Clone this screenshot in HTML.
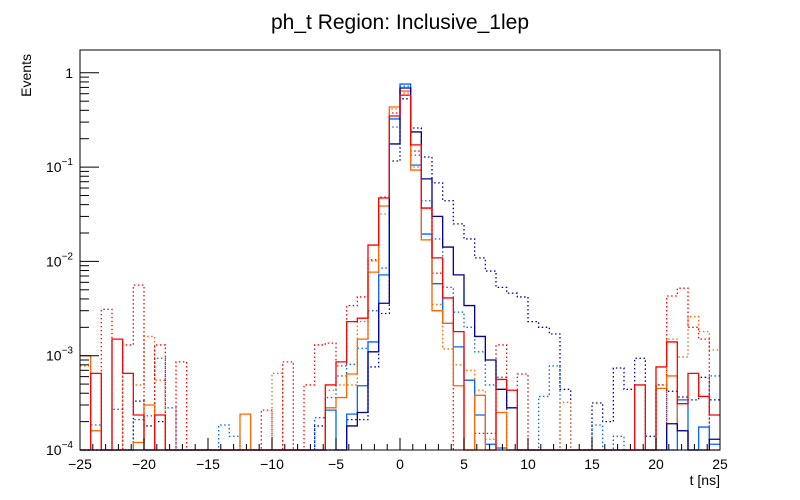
<!DOCTYPE html>
<html><head><meta charset="utf-8"><style>
html,body{margin:0;padding:0;background:#fff;}
svg{display:block;font-family:"Liberation Sans",Arial,sans-serif;}
</style></head><body>
<svg id="chart" width="800" height="500" viewBox="0 0 800 500" xmlns="http://www.w3.org/2000/svg">
<rect x="0" y="0" width="800" height="500" fill="#fff"/>
<text x="400" y="29" font-size="21" text-anchor="middle" fill="#000">ph_t Region: Inclusive_1lep</text>
<text x="0" y="0" font-size="14" text-anchor="end" transform="translate(31,54) rotate(-90)" fill="#000">Events</text>
<text x="720" y="485" font-size="14" text-anchor="end" fill="#000">t [ns]</text>
<g id="series"></g>
<g id="axes"></g>
</svg>
<script>
// ---- data ----
const nBins = 60;
const xMin = -25, xMax = 25;
const xTickLabels = ["−25","−20","−15","−10","−5","0","5","10","15","20","25"];
const xTickValues = [-25,-20,-15,-10,-5,0,5,10,15,20,25];
const yTickExponents = [0,-1,-2,-3,-4];
// sparse bin contents: [binIndex, value]
const navySolid = [[25,1.8e-4],[26,2.5e-4],[27,1.1e-3],[28,3.6e-3],[29,0.176],[30,0.69],[31,0.236],[32,0.075],[33,0.030],[34,0.0142],[35,7.2e-3],[36,3.4e-3],[37,1.6e-3],[38,9.0e-4],[39,4.4e-4],[40,2.8e-4],[55,1.9e-4],[56,1.6e-4],[59,1.3e-4]];
const azureSolid = [[23,2.65e-4],[25,2.4e-4],[26,4.8e-4],[27,1.4e-3],[28,7.2e-3],[29,0.324],[30,0.76],[31,0.105],[32,0.0195],[33,5.8e-3],[34,2.2e-3],[35,1.24e-3],[36,5.5e-4],[37,2.35e-4],[38,1.15e-4],[39,1.05e-4],[56,3.4e-4],[58,1.75e-4],[59,1.15e-4]];
const orangeSolid = [[0,1.0e-3],[1,1.6e-4],[5,1.2e-4],[6,3.0e-4],[15,2.4e-4],[23,2.8e-4],[24,3.6e-4],[25,6.4e-4],[26,1.5e-3],[27,7.7e-3],[28,0.0387],[29,0.434],[30,0.64],[31,0.093],[32,0.0169],[33,3.0e-3],[34,2.2e-3],[35,4.8e-4],[37,3.8e-4],[39,2.5e-4],[54,4.5e-4],[55,6.1e-4],[56,1.6e-4]];
const redSolid = [[1,6.5e-4],[3,1.5e-3],[4,6.5e-4],[5,2.35e-4],[7,2.35e-4],[23,4.9e-4],[24,8.6e-4],[25,2.3e-3],[26,2.5e-3],[27,0.0149],[28,0.047],[29,0.348],[30,0.58],[31,0.172],[32,0.0368],[33,0.0109],[34,4.1e-3],[35,1.8e-3],[39,5.6e-4],[40,4.3e-4],[52,4.9e-4],[54,7.6e-4],[55,1.4e-3],[56,3.1e-4],[57,6.5e-4],[58,3.7e-4],[59,2.35e-4]];
const navyDotted = [[5,3.3e-4],[6,1.8e-4],[7,2.0e-4],[22,1.8e-4],[25,2.1e-4],[26,2.1e-4],[27,7.6e-4],[28,2.8e-3],[29,0.116],[30,0.53],[31,0.26],[32,0.128],[33,0.068],[34,0.044],[35,0.025],[36,0.0173],[37,0.0109],[38,7.9e-3],[39,5.3e-3],[40,4.6e-3],[41,4.2e-3],[42,2.3e-3],[43,2.0e-3],[44,1.7e-3],[45,4.4e-4],[48,3.15e-4],[49,2.0e-4],[50,7.4e-4],[51,4.4e-4],[52,9.4e-4],[53,1.4e-4],[54,4.9e-4],[55,4.2e-4],[56,3.65e-4],[57,3.4e-4],[58,5.9e-4],[59,3.4e-4]];
const azureDotted = [[1,1.84e-4],[3,2.7e-4],[5,2.1e-4],[6,2.3e-4],[7,9.4e-4],[8,2.8e-4],[13,1.84e-4],[14,1.4e-4],[22,2.2e-4],[23,3.6e-4],[24,6.1e-4],[25,8.1e-4],[26,1.2e-3],[27,3.0e-3],[28,8.5e-3],[29,0.266],[30,0.72],[31,0.134],[32,0.044],[33,0.0173],[34,5.3e-3],[35,2.9e-3],[36,2.0e-3],[37,1.1e-3],[38,4.9e-4],[39,5.9e-4],[43,3.7e-4],[44,7.8e-4],[48,1.84e-4],[50,1.4e-4],[54,4.9e-4],[59,6.1e-4]];
const orangeDotted = [[0,7.8e-4],[1,6.5e-4],[4,6.5e-4],[5,4.9e-4],[6,1.6e-3],[7,5.5e-4],[18,6.5e-4],[23,4.3e-4],[24,4.9e-4],[25,4.9e-4],[26,2.3e-3],[27,0.0101],[28,0.0318],[29,0.413],[30,0.61],[31,0.100],[32,0.0169],[33,3.5e-3],[34,1.18e-3],[35,8.0e-4],[36,7.0e-4],[37,4.3e-4],[38,1.3e-4],[45,3.2e-4],[54,4.9e-4],[55,1.5e-3],[56,9.7e-4],[57,2.6e-3],[58,1.8e-3],[59,1.15e-3]];
const redDotted = [[2,3.1e-3],[4,1.3e-3],[5,5.6e-3],[7,1.3e-3],[9,8.6e-4],[17,2.65e-4],[19,8.6e-4],[21,4.9e-4],[22,1.3e-3],[23,1.36e-3],[24,7.8e-4],[25,3.4e-3],[26,4.2e-3],[27,0.0104],[28,0.048],[29,0.375],[30,0.58],[31,0.148],[32,0.0368],[33,7.5e-3],[34,2.2e-3],[37,1.5e-4],[38,1.5e-4],[39,1.3e-3],[41,6.4e-4],[55,4.3e-3],[56,5.2e-3],[57,2.0e-3],[58,1.5e-3]];

// ---- layout ----
const X0 = 80, X1 = 720, Y0 = 450, Y1 = 50;
const yMinLog = -4, decadePx = 94.3;
const NS = "http://www.w3.org/2000/svg";
function xScale(v){ return X0 + (v - xMin) / (xMax - xMin) * (X1 - X0); }
function yScale(v){
  if (!(v > 0)) return Y0;
  let y = Y0 - (Math.log10(v) - yMinLog) * decadePx;
  return Math.max(Y1, Math.min(Y0, y));
}
const binW = (xMax - xMin) / nBins;
function dense(sparse){ const a = new Array(nBins).fill(0); sparse.forEach(p => { a[p[0]] = p[1]; }); return a; }

const seriesDefs = [
  {data: navyDotted, color: "#000099", dash: "1.5,2.5", name: "series-navy-dotted"},
  {data: azureDotted, color: "#0066ff", dash: "1.5,2.5", name: "series-azure-dotted"},
  {data: orangeDotted, color: "#ff6600", dash: "1.5,2.5", name: "series-orange-dotted"},
  {data: redDotted, color: "#ff0000", dash: "1.5,2.5", name: "series-red-dotted"},
  {data: azureSolid, color: "#0066ff", dash: null, name: "series-azure-solid"},
  {data: orangeSolid, color: "#ff6600", dash: null, name: "series-orange-solid"},
  {data: navySolid, color: "#000099", dash: null, name: "series-navy-solid"},
  {data: redSolid, color: "#ff0000", dash: null, name: "series-red-solid"}
];
const sg = document.getElementById("series");
seriesDefs.forEach(s => {
  const vals = dense(s.data);
  let d = "";
  for (let i = 0; i < nBins; i++) {
    const xl = xScale(xMin + i * binW), xr = xScale(xMin + (i + 1) * binW);
    const y = yScale(vals[i]);
    d += (i === 0 ? "M" + xl + "," + y : "L" + xl + "," + y) + " L" + xr + "," + y + " ";
  }
  const p = document.createElementNS(NS, "path");
  p.setAttribute("d", d);
  p.setAttribute("fill", "none");
  p.setAttribute("stroke", s.color);
  p.setAttribute("stroke-width", "1.3");
  if (s.dash) p.setAttribute("stroke-dasharray", s.dash);
  
  
  sg.appendChild(p);
});

// ---- axes ----
const ag = document.getElementById("axes");
function line(x1,y1,x2,y2,w){
  const l = document.createElementNS(NS,"line");
  l.setAttribute("x1",x1); l.setAttribute("y1",y1); l.setAttribute("x2",x2); l.setAttribute("y2",y2);
  l.setAttribute("stroke","#000"); l.setAttribute("stroke-width", w || 1);
  ag.appendChild(l); return l;
}
const frame = document.createElementNS(NS,"rect");
frame.setAttribute("x",X0); frame.setAttribute("y",Y1); frame.setAttribute("width",X1-X0); frame.setAttribute("height",Y0-Y1);
frame.setAttribute("fill","none"); frame.setAttribute("stroke","#000"); frame.setAttribute("stroke-width","1");


ag.appendChild(frame);
// x minor ticks
for (let v = xMin; v <= xMax; v += 1) {
  const x = xScale(v);
  const major = (v % 5 === 0);
  const t = line(x, Y0, x, Y0 - (major ? 12 : 6));
  
  
}
xTickValues.forEach((v, i) => {
  const t = document.createElementNS(NS,"text");
  t.setAttribute("x", xScale(v)); t.setAttribute("y", Y0 + 19);
  t.setAttribute("font-size","14"); t.setAttribute("text-anchor","middle");
  t.textContent = xTickLabels[i];
  
  
  ag.appendChild(t);
});
// y ticks
for (let e = yMinLog; e <= 0; e++) {
  for (let m = 1; m <= 9; m++) {
    const v = m * Math.pow(10, e);
    const y = yScale(v);
    if (y < Y1) continue;
    const t = line(X0, y, X0 + (m === 1 ? 19 : 9), y);
    
    
  }
}
yTickExponents.forEach(e => {
  const y = yScale(Math.pow(10, e));
  const t = document.createElementNS(NS,"text");
  t.setAttribute("y", y + 5); t.setAttribute("font-size","14"); t.setAttribute("text-anchor","end");
  if (e === 0) { t.setAttribute("x", X0 - 7); t.textContent = "1"; }
  else {
    t.setAttribute("x", X0 - 7);
    const b = document.createElementNS(NS,"tspan"); b.textContent = "10";
    const s = document.createElementNS(NS,"tspan"); s.textContent = String(e).replace("-", "−");
    s.setAttribute("font-size","10"); s.setAttribute("dy","-7");
    t.appendChild(b); t.appendChild(s);
  }
  
  
  ag.appendChild(t);
});
</script>
</body></html>
